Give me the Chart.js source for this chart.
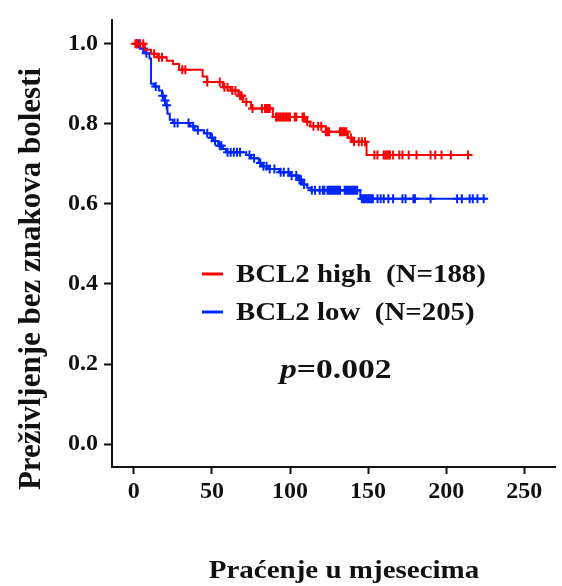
<!DOCTYPE html>
<html>
<head>
<meta charset="utf-8">
<script src="https://cdn.jsdelivr.net/npm/chart.js@4.4.1/dist/chart.umd.min.js"></script>
<style>
  html, body { margin: 0; padding: 0; background: #fff; }
  #wrap { width: 562px; height: 586px; position: relative; }
</style>
</head>
<body>
<div id="wrap"><canvas id="c"></canvas></div>
<script>
// ---- Data ----
const xTickValues = [0, 50, 100, 150, 200, 250];
const yTickValues = [0, 0.2, 0.4, 0.6, 0.8, 1.0];

const seriesNames = ["BCL2 high  (N=188)", "BCL2 low  (N=205)"];
const pText = "=0.002";
const xTitle = "Praćenje u mjesecima";
const yTitle = "Preživljenje bez znakova bolesti";

// BCL2 high: event times (months) and survival after each step
const redT = [0, 7, 11, 15, 21, 25, 29, 44, 47, 57, 62, 67, 70, 75, 89, 110, 113, 123, 137, 140, 149, 215];
const redS = [1.0, 0.985, 0.975, 0.966, 0.957, 0.949, 0.935, 0.918, 0.904, 0.891, 0.883, 0.870, 0.854, 0.838, 0.817, 0.805, 0.794, 0.780, 0.765, 0.755, 0.722, 0.722];

// BCL2 high: censor marks
const redCensorT = [1, 2, 4, 6,
  13, 16, 18,
  31, 33,
  47, 55,
  58, 60, 63, 65, 68, 69, 72,
  76, 82, 84, 85, 86, 87,
  91, 92, 93, 94, 95, 96, 97, 98, 99, 100, 103, 104, 108, 109,
  111, 115, 118, 120,
  123, 124, 125, 132, 133, 134, 135, 136,
  139, 141, 144, 146, 148,
  154, 156, 160, 161, 162, 163, 164, 166, 170, 172, 176, 181, 190, 193, 197, 203, 214];
const redCensorS = [1, 1, 1, 1,
  0.975, 0.966, 0.966,
  0.935, 0.935,
  0.904, 0.904,
  0.891, 0.891, 0.883, 0.883, 0.870, 0.870, 0.854,
  0.838, 0.838, 0.838, 0.838, 0.838, 0.838,
  0.817, 0.817, 0.817, 0.817, 0.817, 0.817, 0.817, 0.817, 0.817, 0.817, 0.817, 0.817, 0.817, 0.817,
  0.805, 0.794, 0.794, 0.794,
  0.780, 0.780, 0.780, 0.780, 0.780, 0.780, 0.780, 0.780,
  0.765, 0.755, 0.755, 0.755, 0.755,
  0.722, 0.722, 0.722, 0.722, 0.722, 0.722, 0.722, 0.722, 0.722, 0.722, 0.722, 0.722, 0.722, 0.722, 0.722, 0.722, 0.722];

// BCL2 low: event times and survival
const blueT = [0, 4, 7, 10, 11, 13, 16, 18, 19.5, 20.5, 21.5, 23, 25, 36, 39, 45, 49, 51, 54, 57, 59, 72, 75, 80, 82, 86, 93, 100, 105, 108, 111, 113, 145, 226];
const blueS = [1.0, 0.988, 0.976, 0.963, 0.900, 0.893, 0.883, 0.870, 0.858, 0.846, 0.825, 0.810, 0.802, 0.794, 0.784, 0.776, 0.765, 0.757, 0.745, 0.737, 0.729, 0.722, 0.714, 0.702, 0.694, 0.687, 0.679, 0.671, 0.660, 0.648, 0.640, 0.634, 0.613, 0.613];

// BCL2 low: censor marks
const blueCensorT = [2, 3, 6, 8,
  14, 18.5, 20, 21,
  26, 28, 35,
  38, 41, 47, 50, 52, 55, 56,
  60, 62, 64, 66, 68,
  74, 77, 81, 83, 85, 87, 90,
  94, 96, 99, 101, 104, 106, 107, 109,
  114, 116, 119, 121, 122, 124, 125, 126, 127, 128, 129, 130, 131, 132,
  135, 136, 137, 138, 139, 140, 141, 142, 143,
  146, 147, 148, 149, 150, 151, 152, 153,
  156, 158, 160, 163, 166, 172, 174, 179, 180, 190, 207, 210, 215, 217, 220, 224];
const blueCensorS = [1, 1, 0.988, 0.976,
  0.893, 0.870, 0.858, 0.846,
  0.802, 0.802, 0.802,
  0.794, 0.784, 0.776, 0.765, 0.757, 0.745, 0.745,
  0.729, 0.729, 0.729, 0.729, 0.729,
  0.722, 0.714, 0.702, 0.694, 0.694, 0.687, 0.687,
  0.679, 0.679, 0.679, 0.671, 0.671, 0.660, 0.660, 0.648,
  0.634, 0.634, 0.634, 0.634, 0.634, 0.634, 0.634, 0.634, 0.634, 0.634, 0.634, 0.634, 0.634, 0.634,
  0.634, 0.634, 0.634, 0.634, 0.634, 0.634, 0.634, 0.634, 0.634,
  0.613, 0.613, 0.613, 0.613, 0.613, 0.613, 0.613, 0.613,
  0.613, 0.613, 0.613, 0.613, 0.613, 0.613, 0.613, 0.613, 0.613, 0.613, 0.613, 0.613, 0.613, 0.613, 0.613, 0.613];

// ---- Styling ----
const RED = 'rgb(255,0,0)';
const BLUE = 'rgb(0,38,255)';
const AXIS = '#111';
const SERIF = '"Liberation Serif", "Times New Roman", serif';

const pts = (T, S) => T.map((t, i) => ({ x: t, y: S[i] }));

const annotations = {
  id: 'annotations',
  afterDraw(chart) {
    const ctx = chart.ctx;
    ctx.save();
    // legend lines
    ctx.lineWidth = 3;
    ctx.strokeStyle = RED;
    ctx.beginPath(); ctx.moveTo(202, 274); ctx.lineTo(223, 274); ctx.stroke();
    ctx.strokeStyle = BLUE;
    ctx.beginPath(); ctx.moveTo(202, 312); ctx.lineTo(223, 312); ctx.stroke();
    ctx.fillStyle = '#111';
    ctx.textAlign = 'left';
    ctx.textBaseline = 'alphabetic';
    ctx.font = 'bold 25px ' + SERIF;
    const sx = 1.155;
    ctx.save(); ctx.translate(236, 281.5); ctx.scale(sx, 1); ctx.fillText(seriesNames[0], 0, 0); ctx.restore();
    ctx.save(); ctx.translate(236, 320); ctx.scale(sx, 1); ctx.fillText(seriesNames[1], 0, 0); ctx.restore();
    // p value
    ctx.save();
    ctx.translate(280, 378);
    ctx.scale(1.2, 1);
    ctx.font = 'italic bold 28px ' + SERIF;
    ctx.fillText('p', 0, 0);
    const pw = ctx.measureText('p').width;
    ctx.font = 'bold 28px ' + SERIF;
    ctx.fillText(pText, pw, 0);
    ctx.restore();
    // x title
    ctx.save();
    ctx.translate(344, 578);
    ctx.scale(1.16, 1);
    ctx.textAlign = 'center';
    ctx.font = 'bold 25px ' + SERIF;
    ctx.fillText(xTitle, 0, 0);
    ctx.restore();
    // y title
    ctx.save();
    ctx.translate(40, 279);
    ctx.rotate(-Math.PI / 2);
    ctx.textAlign = 'center';
    ctx.font = 'bold 31px ' + SERIF;
    ctx.fillText(yTitle, 0, 0);
    ctx.restore();
    ctx.restore();
  }
};

new Chart(document.getElementById('c'), {
  type: 'line',
  data: {
    datasets: [
      { label: 'BCL2 low', data: pts(blueT, blueS), borderColor: BLUE, borderWidth: 2, stepped: 'before', pointRadius: 0, fill: false, order: 2 },
      { label: 'BCL2 low censored', data: pts(blueCensorT, blueCensorS), showLine: false, pointStyle: 'cross', pointRadius: 4.5, pointBorderWidth: 2, borderColor: BLUE, backgroundColor: BLUE, order: 2 },
      { label: 'BCL2 high', data: pts(redT, redS), borderColor: RED, borderWidth: 2, stepped: 'before', pointRadius: 0, fill: false, order: 1 },
      { label: 'BCL2 high censored', data: pts(redCensorT, redCensorS), showLine: false, pointStyle: 'cross', pointRadius: 4.5, pointBorderWidth: 2, borderColor: RED, backgroundColor: RED, order: 1 }
    ]
  },
  options: {
    responsive: true,
    maintainAspectRatio: false,
    animation: false,
    events: [],
    layout: { padding: { left: 0, right: 2, top: 16, bottom: 0 } },
    plugins: { legend: { display: false }, tooltip: { enabled: false } },
    scales: {
      x: {
        type: 'linear',
        min: -14, max: 270,
        afterBuildTicks: s => { s.ticks = xTickValues.map(v => ({ value: v })); },
        afterFit: s => { s.height = 119; },
        ticks: { color: '#111', font: { family: SERIF, size: 24, weight: 'bold' }, padding: 3, maxRotation: 0, callback: v => String(v) },
        grid: { drawOnChartArea: false, drawTicks: true, tickLength: 7, tickWidth: 2, tickColor: AXIS },
        border: { display: true, color: AXIS, width: 2 }
      },
      y: {
        type: 'linear',
        min: -0.057, max: 1.058,
        afterBuildTicks: s => { s.ticks = yTickValues.map(v => ({ value: v })); },
        afterFit: s => { s.width = 112; },
        ticks: { color: '#111', font: { family: SERIF, size: 24, weight: 'bold' }, padding: 6, callback: v => Number(v).toFixed(1) },
        grid: { drawOnChartArea: false, drawTicks: true, tickLength: 8, tickWidth: 2, tickColor: AXIS },
        border: { display: true, color: AXIS, width: 2 }
      }
    }
  },
  plugins: [annotations]
});
</script>
</body>
</html>
